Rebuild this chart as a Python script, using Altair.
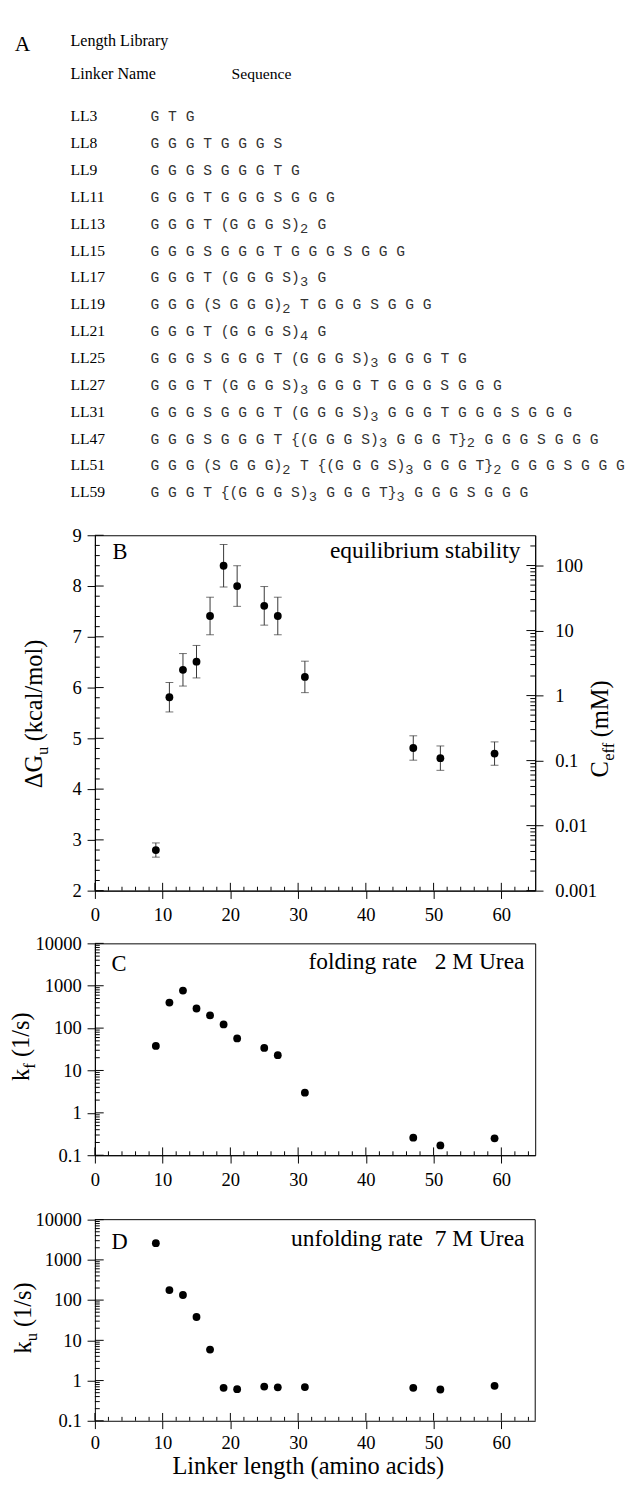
import altair as alt
import pandas as pd

# ---------------- Panel A: length library ----------------
linker_names = ["LL3", "LL8", "LL9", "LL11", "LL13", "LL15", "LL17", "LL19",
                "LL21", "LL25", "LL27", "LL31", "LL47", "LL51", "LL59"]
# "_d" marks a subscript digit
linker_seqs = [
    "G T G",
    "G G G T G G G S",
    "G G G S G G G T G",
    "G G G T G G G S G G G",
    "G G G T (G G G S)_2 G",
    "G G G S G G G T G G G S G G G",
    "G G G T (G G G S)_3 G",
    "G G G (S G G G)_2 T G G G S G G G",
    "G G G T (G G G S)_4 G",
    "G G G S G G G T (G G G S)_3 G G G T G",
    "G G G T (G G G S)_3 G G G T G G G S G G G",
    "G G G S G G G T (G G G S)_3 G G G T G G G S G G G",
    "G G G S G G G T {(G G G S)_3 G G G T}_2 G G G S G G G",
    "G G G (S G G G)_2 T {(G G G S)_3 G G G T}_2 G G G S G G G",
    "G G G T {(G G G S)_3 G G G T}_3 G G G S G G G",
]

# ---------------- Panels B-D ----------------
lengths = [9, 11, 13, 15, 17, 19, 21, 25, 27, 31, 47, 51, 59]
dG = [2.80, 5.81, 6.35, 6.51, 7.41, 8.40, 8.00, 7.61, 7.41, 6.21, 4.81, 4.61, 4.70]
dG_err = [0.14, 0.29, 0.32, 0.32, 0.37, 0.42, 0.40, 0.38, 0.37, 0.31, 0.24, 0.24, 0.23]
kf = [38, 400, 770, 290, 200, 122, 57, 34, 23, 3.0, 0.26, 0.17, 0.25]
ku = [2600, 178, 134, 38, 5.9, 0.66, 0.61, 0.71, 0.68, 0.69, 0.66, 0.60, 0.74]

x_ticks = [0, 10, 20, 30, 40, 50, 60]
x_minor = [v for v in range(2, 65, 2) if v % 10]
dG_ticks = [2, 3, 4, 5, 6, 7, 8, 9]
dG_minor = [round(i * 0.2, 1) for i in range(10, 46) if i % 5]
rate_ticks = [0.1, 1, 10, 100, 1000, 10000]
rate_minor = [m * 10.0 ** e for e in range(-1, 4) for m in range(2, 10)]
ceff_ticks = [0.001, 0.01, 0.1, 1, 10, 100]
ceff_minor = [m * 10.0 ** e for e in range(-3, 3) for m in range(2, 10) if m * 10.0 ** e <= 290]

# ---------------- layout ----------------
W = 451
GAP = 54
HA, HB, HC = 467, 364, 217
D_TOP, HD = 12, 206          # panel D: 12 px blank band on top, then the plot
HDP = D_TOP + HD
SERIF = "Liberation Serif"
MONO = "Liberation Mono"
ROW0, ROWH = 97, 27.5
SEQ0, CHW = 57, 9.0

one = pd.DataFrame({"k": [0]})


def label(txt, x, y, size, align="left", angle=0, font=SERIF, color="black"):
    return alt.Chart(one).mark_text(
        text=txt, align=align, baseline="alphabetic", angle=angle,
        font=font, fontSize=size, color=color
    ).encode(x=alt.value(x), y=alt.value(y))


def frame_line(x, x2, y, y2):
    return alt.Chart(one).mark_rule(color="black", strokeWidth=1).encode(
        x=alt.value(x), x2=alt.value(x2), y=alt.value(y), y2=alt.value(y2))


# ---------- Panel A ----------
seg_rows = []
for i, seq in enumerate(linker_seqs):
    col = 0
    for j, p in enumerate(seq.split("_")):
        if j > 0:
            seg_rows.append(dict(row=i, col=col, txt=p[0], sub=1))
            col += 1
            p = p[1:]
        st = p.lstrip(" ")
        col += len(p) - len(st)
        if st.strip():
            seg_rows.append(dict(row=i, col=col, txt=st.rstrip(), sub=0))
        col += len(st)
segs = pd.DataFrame(seg_rows)
names_df = pd.DataFrame({"row": list(range(len(linker_names))), "name": linker_names})

row_scale = alt.Scale(domain=[-ROW0 / ROWH, (HA - ROW0) / ROWH], reverse=True, nice=False, zero=False)
col_scale = alt.Scale(domain=[-SEQ0 / CHW, (W - SEQ0) / CHW], nice=False, zero=False)

names_layer = alt.Chart(names_df).mark_text(
    align="left", baseline="alphabetic", font=SERIF, fontSize=16, color="black"
).encode(x=alt.value(-25), y=alt.Y("row:Q", scale=row_scale, axis=None), text="name:N")

seq_main = alt.Chart(segs[segs["sub"] == 0]).mark_text(
    align="left", baseline="alphabetic", font=MONO, fontSize=15, color="#333"
).encode(x=alt.X("col:Q", scale=col_scale, axis=None),
         y=alt.Y("row:Q", scale=row_scale, axis=None), text="txt:N")

seq_sub = alt.Chart(segs[segs["sub"] == 1]).mark_text(
    align="left", baseline="alphabetic", font=MONO, fontSize=14, color="#333", dy=4
).encode(x=alt.X("col:Q", scale=col_scale, axis=None),
         y=alt.Y("row:Q", scale=row_scale, axis=None), text="txt:N")

anchor = alt.Chart(one).mark_rule(color="white", strokeWidth=1).encode(
    x=alt.value(-87.5), x2=alt.value(-85), y=alt.value(0.5), y2=alt.value(0.5))

panelA = alt.layer(
    anchor,
    label("A", -82, 25, 22),
    label("Length Library", -25, 20, 16.5),
    label("Linker Name", -25, 54, 16.5),
    label("Sequence", 140, 54, 16),
    names_layer, seq_main, seq_sub,
).properties(width=W, height=HA, view=alt.ViewBackground(stroke="transparent"))


# ---------- axis helpers ----------
def x_axis(title=None, pad=8, **kw):
    return alt.Axis(values=x_ticks, format="d", tickSize=8, tickColor="black",
                    domainColor="black", labelFont=SERIF, labelFontSize=19,
                    labelColor="black", labelPadding=pad, labelFlush=False,
                    labelOverlap=False, grid=False, title=title, **kw)


def y_axis(values, fmt, orient="left", pad=6):
    return alt.Axis(values=values, format=fmt, orient=orient, tickSize=8,
                    tickColor="black", domainColor="black", labelFont=SERIF,
                    labelFontSize=19, labelColor="black", labelPadding=pad,
                    labelOverlap=False, labelFlush=False, grid=False, title=None)


xs = alt.Scale(domain=[0, 65], nice=False, zero=False)


def x_inner_ticks(H, xax):
    mn = alt.Chart(pd.DataFrame({"v": x_minor})).mark_rule(color="black", strokeWidth=1).encode(
        x=alt.X("v:Q", scale=xs, axis=xax), y=alt.value(H), y2=alt.value(H - 4))
    mj = alt.Chart(pd.DataFrame({"v": x_ticks})).mark_rule(color="black", strokeWidth=1).encode(
        x=alt.X("v:Q", scale=xs, axis=xax), y=alt.value(H), y2=alt.value(H - 8))
    return [mn, mj]


def y_inner_ticks(major, minor, ys, yax, xa, sign):
    mn = alt.Chart(pd.DataFrame({"v": minor})).mark_rule(color="black", strokeWidth=1).encode(
        y=alt.Y("v:Q", scale=ys, axis=yax), x=alt.value(xa), x2=alt.value(xa + sign * 5))
    mj = alt.Chart(pd.DataFrame({"v": major})).mark_rule(color="black", strokeWidth=1).encode(
        y=alt.Y("v:Q", scale=ys, axis=yax), x=alt.value(xa), x2=alt.value(xa + sign * 9))
    return [mn, mj]


# ---------- Panel B ----------
dfB = pd.DataFrame({
    "len": lengths, "dG": dG,
    "lo": [g - e for g, e in zip(dG, dG_err)],
    "hi": [g + e for g, e in zip(dG, dG_err)],
})
yB = alt.Scale(domain=[2, 9], nice=False, zero=False)
axB = y_axis(dG_ticks, "d")
xaxB = x_axis()

errB = alt.Chart(dfB).mark_rule(color="#333", strokeWidth=1).encode(
    x=alt.X("len:Q", scale=xs, axis=xaxB), y=alt.Y("lo:Q", scale=yB, axis=axB), y2="hi:Q")
capHi = alt.Chart(dfB).mark_tick(orient="horizontal", size=8, thickness=1, color="#333").encode(
    x=alt.X("len:Q", scale=xs, axis=xaxB), y=alt.Y("hi:Q", scale=yB, axis=axB))
capLo = alt.Chart(dfB).mark_tick(orient="horizontal", size=8, thickness=1, color="#333").encode(
    x=alt.X("len:Q", scale=xs, axis=xaxB), y=alt.Y("lo:Q", scale=yB, axis=axB))
ptsB = alt.Chart(dfB).mark_circle(size=64, color="black", opacity=1).encode(
    x=alt.X("len:Q", scale=xs, axis=xaxB), y=alt.Y("dG:Q", scale=yB, axis=axB))

leftB = alt.layer(
    *x_inner_ticks(HB, xaxB),
    *y_inner_ticks(dG_ticks, dG_minor, yB, axB, 0, 1),
    errB, capHi, capLo, ptsB,
    label("B", 18, 24, 23),
    label("equilibrium stability", 436, 23, 24, align="right"),
    label("\u0394G", -54, 259, 25, angle=270),
    label("u", -48, 225, 17, angle=270),
    label("(kcal/mol)", -54, 211, 25, angle=270),
)

ceff_scale = alt.Scale(type="log", domain=[0.001, 292], nice=False)
axC = y_axis(ceff_ticks, "~g", orient="right", pad=12)
rightB = alt.layer(
    *y_inner_ticks(ceff_ticks, ceff_minor, ceff_scale, axC, W, -1),
    label("C", 526, 248, 25, angle=270),
    label("eff", 532, 231, 17, angle=270),
    label("(mM)", 526, 207, 25, angle=270),
)

panelB = alt.layer(leftB, rightB).resolve_scale(y="independent").properties(width=W, height=HB)


# ---------- Panels C and D ----------
def rate_panel(vals, H, top, letter, note, sub, ly, ny, title_start, title_x, xax, framed):
    df = pd.DataFrame({"len": lengths, "k": vals})
    ys = alt.Scale(type="log", domain=[0.1, 10000], nice=False, range=[top + H, top])
    ax = y_axis(rate_ticks, "~g")
    pts = alt.Chart(df).mark_circle(size=64, color="black", opacity=1).encode(
        x=alt.X("len:Q", scale=xs, axis=xax), y=alt.Y("k:Q", scale=ys, axis=ax))
    sub_w = 8.5 if sub == "u" else 6
    layers = [
        *x_inner_ticks(top + H, xax),
        *y_inner_ticks(rate_ticks, rate_minor, ys, ax, 0, 1),
        pts,
        label(letter, 17, top + ly, 23),
        label(note, 440, top + ny, 24, align="right"),
        label("k", title_x, top + title_start, 25, angle=270),
        label(sub, title_x + 6, top + title_start - 12.5, 17, angle=270),
        label("(1/s)", title_x, top + title_start - 12.5 - sub_w - 6, 25, angle=270),
    ]
    if not framed:
        layers += [frame_line(0, W, top, top), frame_line(W, W, top, top + H)]
    ch = alt.layer(*layers).properties(width=W, height=top + H)
    if not framed:
        ch = ch.properties(view=alt.ViewBackground(stroke="transparent"))
    return ch


panelC = rate_panel(kf, HC, 0, "C", "folding rate\u00a0\u00a0\u00a02 M Urea", "f",
                    28, 26, 141, -67, x_axis(), True)
xaxD = x_axis(title="Linker length (amino acids)", pad=5, titleFont=SERIF, titleFontSize=25,
              titleFontWeight="normal", titleColor="black", titleX=218, titleY=54,
              titleBaseline="alphabetic", titleAlign="center")
panelD = rate_panel(ku, HD, D_TOP, "D", "unfolding rate\u00a0\u00a07 M Urea", "u",
                    30, 27, 137, -65, xaxD, False)

chart = alt.vconcat(panelA, panelB, panelC, panelD, spacing=GAP, bounds="flush").properties(
    padding=0
).configure_view(stroke="black", strokeWidth=1)

chart.save("out.html", embed_options={"renderer": "svg", "actions": False})
